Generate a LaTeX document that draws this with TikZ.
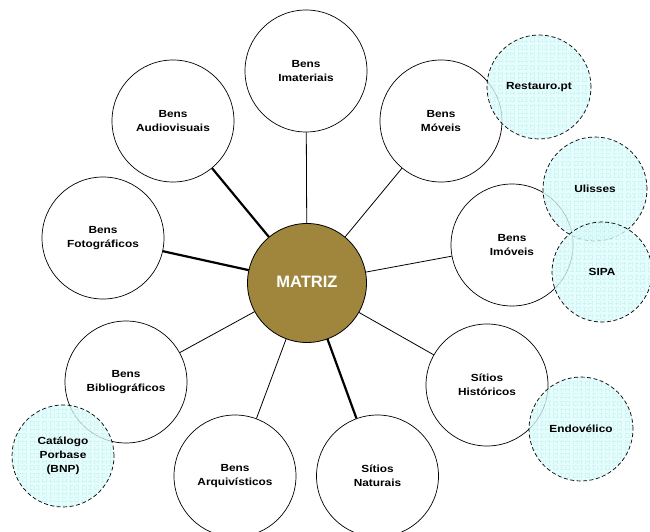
\documentclass[tikz,border=0pt]{standalone}
\usepackage{fontspec}
\setmainfont{Liberation Sans}
\newfontfamily\widesans[FakeStretch=1.15]{Liberation Sans}
\definecolor{matrizbrown}{RGB}{160,133,60}
\definecolor{softcyan}{RGB}{222,252,252}
\definecolor{gridcyan}{RGB}{190,240,240}
\tikzset{
  x=1pt, y=-1pt,
  lbl/.style={font=\widesans\bfseries\fontsize{10.3}{14}\selectfont},
  bigc/.style={circle, draw=black, line width=0.7pt, fill=white, minimum size=122pt, inner sep=0pt, align=center, lbl},
  sidec/.style={circle, draw=black, dashed, dash pattern=on 4pt off 2.5pt, line width=0.7pt, fill=softcyan, fill opacity=0.75, text opacity=1, minimum size=104pt, inner sep=0pt, align=center, lbl,
    path picture={\draw[gridcyan, line width=0.3pt, draw opacity=0.6] ([shift={(-2,-2)}]path picture bounding box.north west) grid[step=4pt] ([shift={(2,2)}]path picture bounding box.south east);}},
  thinl/.style={line width=0.8pt},
  thickl/.style={line width=2.2pt}
}
\begin{document}
\begin{tikzpicture}
\useasboundingbox (0,0) rectangle (650,532);
\node[circle, minimum size=119pt, inner sep=0pt] (m) at (307,283) {};
\node[bigc] (imat) at (306,71) {Bens\\Imateriais};
\node[bigc] (audio) at (173,121) {Bens\\Audiovisuais};
\node[bigc] (moveis) at (441,121) {Bens\\Móveis};
\node[bigc] (foto) at (103,238) {Bens\\Fotográficos};
\node[bigc] (imoveis) at (512,245) {Bens\\Imóveis};
\node[bigc] (sitios) at (487,385) {Sítios\\Históricos};
\node[bigc] (biblio) at (126,382) {Bens\\Bibliográficos};
\node[bigc] (arq) at (235,476) {Bens\\Arquivísticos};
\node[bigc] (nat) at (377.5,476) {Sítios\\Naturais};
\draw[thinl] (m) -- (imat);
\draw[thickl] (m) -- (audio);
\draw[thinl] (m) -- (moveis);
\draw[thickl] (m) -- (foto);
\draw[thinl] (m) -- (imoveis);
\draw[thinl] (m) -- (sitios);
\draw[thinl] (m) -- (biblio);
\draw[thinl] (m) -- (arq);
\draw[thickl] (m) -- (nat);
\node[circle, draw=black, line width=0.8pt, fill=matrizbrown, minimum size=119pt, inner sep=0pt, text=white, font=\bfseries\fontsize{16.5}{18}\selectfont] at (m) {\raisebox{2pt}{MATRIZ}};
\node[sidec] (rest) at (539,87) {Restauro.pt};
\node[sidec] (uli) at (595,189) {Ulisses};
\node[sidec, minimum size=100pt] (sipa) at (602,272) {SIPA};
\node[sidec] (endo) at (581,429) {Endovélico};
\node[sidec, minimum size=102pt] (porb) at (63,456) {Catálogo\\Porbase\\(BNP)};
\end{tikzpicture}
\end{document}
